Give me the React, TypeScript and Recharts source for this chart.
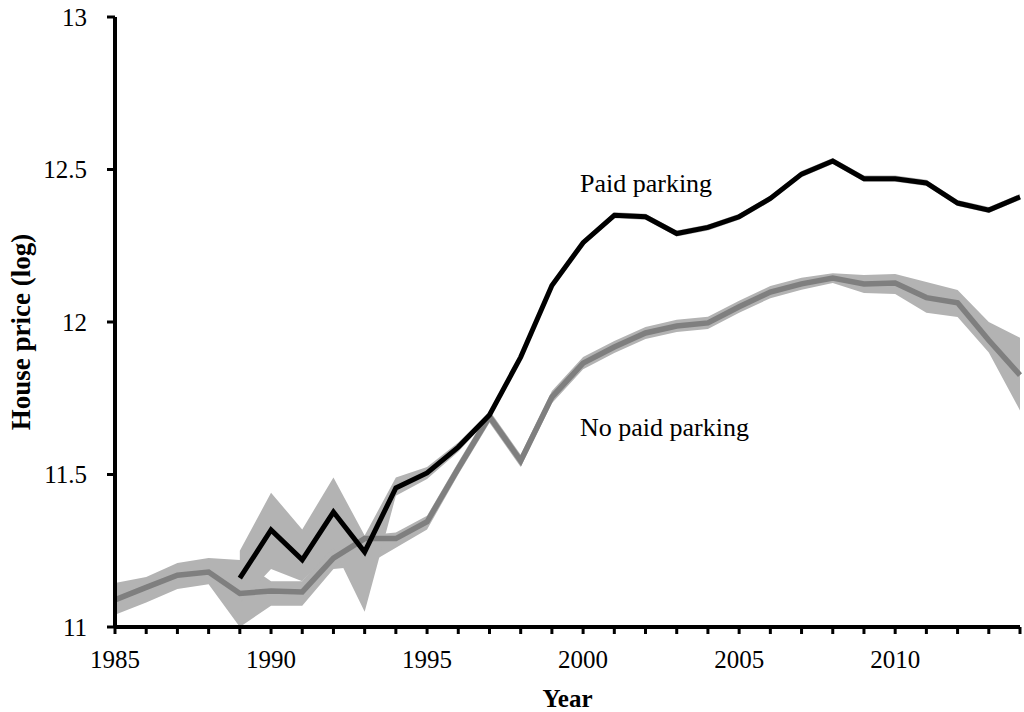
import {
    Area,
    ComposedChart,
    Line,
    ReferenceDot,
    XAxis,
    YAxis,
} from "recharts";

const years = [
    1985, 1986, 1987, 1988, 1989, 1990, 1991, 1992, 1993, 1994,
    1995, 1996, 1997, 1998, 1999, 2000, 2001, 2002, 2003, 2004,
    2005, 2006, 2007, 2008, 2009, 2010, 2011, 2012, 2013, 2014,
];

// No paid parking (grey line) and its confidence band
const noPaid = [
    11.089, 11.13, 11.17, 11.18, 11.11, 11.118, 11.115, 11.226, 11.29, 11.29,
    11.345, 11.52, 11.69, 11.545, 11.754, 11.865, 11.918, 11.964, 11.987, 11.997,
    12.05, 12.098, 12.125, 12.144, 12.125, 12.128, 12.08, 12.063, 11.94, 11.826,
];
const noPaidLow = [
    11.04, 11.08, 11.125, 11.14, 11.0, 11.07, 11.07, 11.19, 11.2, 11.26,
    11.32, 11.5, 11.67, 11.525, 11.734, 11.845, 11.898, 11.944, 11.967, 11.977,
    12.03, 12.078, 12.106, 12.128, 12.095, 12.092, 12.03, 12.016, 11.9, 11.71,
];
const noPaidHigh = [
    11.144, 11.164, 11.21, 11.226, 11.22, 11.15, 11.15, 11.27, 11.3, 11.31,
    11.365, 11.54, 11.71, 11.565, 11.774, 11.885, 11.938, 11.984, 12.007, 12.017,
    12.07, 12.118, 12.145, 12.16, 12.154, 12.157, 12.131, 12.105, 12.0, 11.948,
];

// Paid parking (black line) and its confidence band
const paid = [
    null, null, null, null, 11.16, 11.318, 11.22, 11.377, 11.246, 11.456,
    11.505, 11.59, 11.695, 11.885, 12.12, 12.26, 12.35, 12.345, 12.29, 12.31,
    12.345, 12.405, 12.485, 12.528, 12.47, 12.47, 12.456, 12.39, 12.367, 12.41,
];
const paidLow = [
    null, null, null, null, 11.08, 11.19, 11.15, 11.26, 11.05, 11.43,
    11.485, 11.575, 11.685, 11.875, 12.11, 12.25, 12.34, 12.335, 12.28, 12.3,
    12.335, 12.395, 12.475, 12.518, 12.46, 12.46, 12.446, 12.38, 12.357, 12.4,
];
const paidHigh = [
    null, null, null, null, 11.25, 11.44, 11.32, 11.49, 11.3, 11.49,
    11.525, 11.605, 11.705, 11.895, 12.13, 12.27, 12.36, 12.355, 12.3, 12.32,
    12.355, 12.415, 12.495, 12.538, 12.48, 12.48, 12.466, 12.4, 12.377, 12.42,
];

const yTicks = [11, 11.5, 12, 12.5, 13];

const FONT = "'Liberation Serif', 'Times New Roman', Times, serif";

const chartData = years.map((year, i) => ({
    year,
    noPaid: noPaid[i],
    paid: paid[i],
    noPaidBand: [noPaidLow[i], noPaidHigh[i]],
    paidBand: paid[i] == null ? null : [paidLow[i], paidHigh[i]],
}));

const YTitle = ({ viewBox }: any) => {
    const x = viewBox.x + 21;
    const y = viewBox.y + viewBox.height / 2 + 10;
    return (
        <text
            x={x}
            y={y}
            transform={`rotate(-90, ${x}, ${y})`}
            textAnchor="middle"
            dominantBaseline="central"
            style={{ fontFamily: FONT, fontWeight: "bold", fontSize: 27 }}
            fill="#000"
        >
            House price (log)
        </text>
    );
};

const XTitle = ({ viewBox }: any) => (
    <text
        x={viewBox.x + viewBox.width / 2}
        y={707}
        textAnchor="middle"
        style={{ fontFamily: FONT, fontWeight: "bold", fontSize: 25 }}
        fill="#000"
    >
        Year
    </text>
);

const Note = ({ viewBox, text }: any) => (
    <text
        x={viewBox.x}
        y={viewBox.y}
        textAnchor="start"
        style={{ fontFamily: FONT, fontSize: 26 }}
        fill="#000"
    >
        {text}
    </text>
);

const tickStyle = { fill: "#000", fontSize: 25, style: { fontFamily: FONT } };

export default function App() {
    return (
        <div
            style={{
                position: "absolute",
                left: 0,
                top: 0,
                width: 1024,
                height: 712,
                background: "#fff",
                fontFamily: FONT,
            }}
        >
            <ComposedChart
                width={1024}
                height={712}
                data={chartData}
                margin={{ top: 17, right: 4, bottom: 0, left: 0 }}
                style={{ fontFamily: FONT }}
            >
                <XAxis
                    dataKey="year"
                    type="number"
                    domain={[1985, 2014]}
                    ticks={years}
                    interval={0}
                    tickFormatter={(v: number) => (v % 5 === 0 ? String(v) : "")}
                    height={85}
                    stroke="#000"
                    axisLine={{ stroke: "#000", strokeWidth: 4 }}
                    tickLine={{ stroke: "#000", strokeWidth: 3 }}
                    tickSize={7}
                    tickMargin={16}
                    tick={tickStyle}
                    label={<XTitle />}
                />
                <YAxis
                    type="number"
                    domain={[11, 13]}
                    ticks={yTicks}
                    interval={0}
                    width={115}
                    stroke="#000"
                    axisLine={{ stroke: "#000", strokeWidth: 4 }}
                    tickLine={{ stroke: "#000", strokeWidth: 3 }}
                    tickSize={8}
                    tickMargin={20}
                    tick={tickStyle}
                    label={<YTitle />}
                />
                {/* confidence bands */}
                <Area
                    dataKey="noPaidBand"
                    type="linear"
                    fill="#b3b3b3"
                    fillOpacity={1}
                    stroke="none"
                    isAnimationActive={false}
                />
                <Area
                    dataKey="paidBand"
                    type="linear"
                    fill="#b3b3b3"
                    fillOpacity={1}
                    stroke="none"
                    isAnimationActive={false}
                />
                <Line
                    dataKey="noPaid"
                    type="linear"
                    stroke="#7f7f7f"
                    strokeWidth={5.5}
                    dot={false}
                    activeDot={false}
                    isAnimationActive={false}
                />
                <Line
                    dataKey="paid"
                    type="linear"
                    stroke="#000"
                    strokeWidth={5}
                    dot={false}
                    activeDot={false}
                    isAnimationActive={false}
                />
                <ReferenceDot
                    x={1999.9}
                    y={12.426}
                    r={0}
                    fill="none"
                    stroke="none"
                    label={<Note text="Paid parking" />}
                />
                <ReferenceDot
                    x={1999.9}
                    y={11.626}
                    r={0}
                    fill="none"
                    stroke="none"
                    label={<Note text="No paid parking" />}
                />
            </ComposedChart>
        </div>
    );
}
